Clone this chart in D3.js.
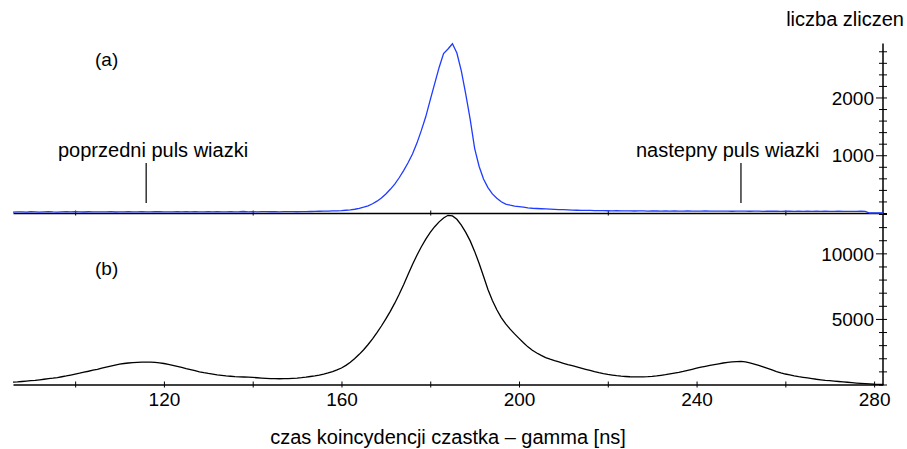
<!DOCTYPE html>
<html><head><meta charset="utf-8">
<script src="https://cdn.jsdelivr.net/npm/d3@7"></script>
<style>
body{margin:0;background:#fff}
text{font-family:"Liberation Sans",Arial,Helvetica,sans-serif;fill:#000}
</style>
</head><body>
<svg id="chart" width="907" height="449"></svg>
<script>
// time bins [ns], 1 ns wide, 86..282
const binTimes = d3.range(86, 283);

// (a) blue histogram – counts per bin
const countsA = [
 15,18,20,16,22,18,15,20,24,18,
 16,20,22,18,25,20,17,22,19,21,
 18,20,23,17,21,19,24,20,18,22,
 20,18,22,25,19,21,18,23,20,22,
 19,24,21,18,22,20,25,21,19,23,
 20,22,26,21,24,20,23,25,22,24,
 21,25,23,24,
 22,24,25,26,28,30,32,34,36,38,
 42,48,55,65,80,100,125,160,205,260,
 330,410,500,610,735,870,1020,1210,1430,1670,
 1960,2240,2520,2760,2840,2930,2770,2460,2060,1620,
 1120,810,590,440,330,255,195,155,135,120,
 110,100,90,82,78,74,70,66,63,60,
 57,54,51,48,46,45,44,42,40,40,
 39,38,40,37,36,38,35,36,37,34,
 35,36,33,35,34,36,32,34,35,33,
 34,32,35,33,31,34,32,33,30,32,
 31,33,30,32,31,29,32,30,31,29,
 30,31,29,30,28,31,29,30,28,30,
 29,28,30,29,27,29,28,30,29,
 0,0,0,0
];

// (b) black histogram – counts per bin
const countsB = [
 180,200,230,260,290,320,360,400,440,480,
 530,590,650,720,790,860,940,1010,1090,1160,
 1240,1320,1400,1480,1560,1600,1640,1670,1690,1700,
 1710,1700,1680,1650,1600,1530,1460,1380,1300,1210,
 1130,1050,970,900,840,790,740,700,660,630,
 600,580,570,555,540,515,490,470,450,445,
 440,445,450,470,490,520,560,610,660,720,
 790,880,990,1110,1260,1460,1700,1980,2300,2650,
 3050,3480,3950,4460,5000,5580,6200,6880,7600,8380,
 9150,9850,10500,11080,11600,12030,12400,12700,12900,12850,
 12600,12150,11600,10950,10150,9250,8250,7250,6400,5700,
 5100,4620,4220,3860,3520,3180,2870,2610,2400,2220,
 2050,1930,1820,1720,1620,1520,1430,1340,1250,1160,
 1070,980,900,830,770,720,670,635,610,590,
 580,575,580,595,620,655,700,750,810,870,
 930,1000,1080,1160,1240,1320,1390,1460,1520,1580,
 1640,1690,1720,1750,1760,1720,1650,1560,1460,1350,
 1230,1110,990,890,800,730,660,600,550,500,
 450,400,360,320,290,260,230,200,170,140,
 110,85,60,40,20,10,0
];

const xTickValues = [100,120,140,160,180,200,220,240,260,280];
const xLabelValues = [120,160,200,240,280];
const midTickValues = [100,140,180,220,260];
const yTicksA = [0,200,400,600,800,1000,1200,1400,1600,1800,2000,2200,2400,2600,2800];
const yLabelsA = [1000,2000];
const yTicksB = [0,1000,2000,3000,4000,5000,6000,7000,8000,9000,10000,11000,12000,13000];
const yLabelsB = [5000,10000];

const svg = d3.select("#chart");
const x = d3.scaleLinear().domain([86,282]).range([13,883]);
const yA = d3.scaleLinear().domain([0,2900]).range([213,45.5]);
const yB = d3.scaleLinear().domain([0,13000]).range([384.5,214]);
const FS = 19;   // numbers
const FT = 20;   // words
const FF = '"Liberation Sans",Arial,Helvetica,sans-serif';

// bottom axis
const gBot = svg.append("g").attr("transform","translate(0,384.5)");
gBot.call(d3.axisBottom(x).tickValues(xTickValues).tickSize(3).tickSizeOuter(0)
  .tickFormat(d => xLabelValues.includes(d) ? d : ""));
gBot.selectAll(".tick line").attr("y1",-3).attr("stroke-width",1);
gBot.select(".domain").attr("stroke-width",1.5);
gBot.selectAll(".tick text").attr("y",21.5).attr("dy",null).style("font-size",FS+"px")
  .style("font-family",FF);

// middle axis
const gMid = svg.append("g").attr("transform","translate(0,213)");
gMid.call(d3.axisBottom(x).tickValues(midTickValues).tickSize(2.5).tickSizeOuter(0).tickFormat(""));
gMid.selectAll(".tick line").attr("y1",-2.5);
gMid.select(".domain").attr("stroke-width",1.3);

// right axes
function rightAxis(scale, ticks, labels){
  const g = svg.append("g").attr("transform","translate(883,0)");
  g.call(d3.axisLeft(scale).tickValues(ticks).tickSize(4).tickSizeOuter(0)
    .tickFormat(d => labels.includes(d) ? d : ""));
  g.selectAll(".tick line").attr("x1", 4).attr("x2", d => labels.includes(d) ? -7 : -4);
  g.select(".domain").remove();
  g.selectAll(".tick text").attr("x",-9).attr("dy","0.35em").style("font-size",FS+"px")
    .style("font-family",FF);
  return g;
}
rightAxis(yA, yTicksA, yLabelsA);
rightAxis(yB, yTicksB, yLabelsB);
svg.append("line").attr("x1",883).attr("x2",883).attr("y1",43.5).attr("y2",385)
  .attr("stroke","#000").attr("stroke-width",1.5);

// curves
const lineA = d3.line().x((d,i)=>x(binTimes[i])).y(d=>yA(d));
const lineB = d3.line().x((d,i)=>x(binTimes[i])).y(d=>yB(d));
svg.append("path").datum(countsB).attr("d",lineB).attr("fill","none")
  .attr("stroke","#000").attr("stroke-width",1.3);
svg.append("path").datum(countsA).attr("d",lineA).attr("fill","none")
  .attr("stroke","#1f3cff").attr("stroke-width",1.3);

// labels
svg.append("text").attr("x",904).attr("y",26).attr("text-anchor","end").style("font-size",FT+"px").text("liczba zliczen");
svg.append("text").attr("x",95).attr("y",66).style("font-size",FS+"px").text("(a)");
svg.append("text").attr("x",95).attr("y",275).style("font-size",FS+"px").text("(b)");
svg.append("text").attr("x",58).attr("y",157).style("font-size",FT+"px").text("poprzedni puls wiazki");
svg.append("text").attr("x",636).attr("y",157).style("font-size",FT+"px").text("nastepny puls wiazki");
svg.append("line").attr("x1",x(116)).attr("x2",x(116)).attr("y1",163).attr("y2",203).attr("stroke","#000").attr("stroke-width",1.2);
svg.append("line").attr("x1",x(250)).attr("x2",x(250)).attr("y1",163).attr("y2",203).attr("stroke","#000").attr("stroke-width",1.2);
svg.append("text").attr("x",448).attr("y",444).attr("text-anchor","middle").style("font-size",FT+"px")
  .text("czas koincydencji czastka – gamma [ns]");
</script>
</body></html>
